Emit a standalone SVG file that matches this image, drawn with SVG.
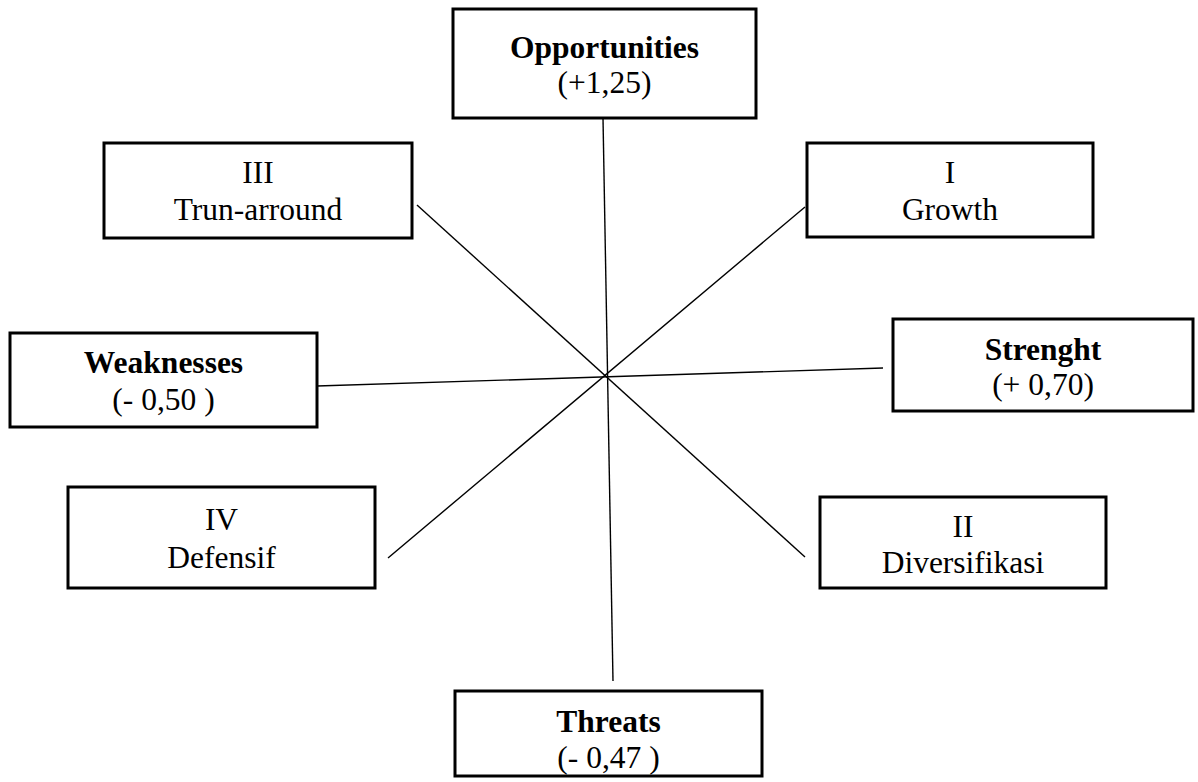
<svg xmlns="http://www.w3.org/2000/svg" width="1198" height="782" viewBox="0 0 1198 782">
<style>
.box{fill:#fff;stroke:#000;stroke-width:3}
.t{font-family:"Liberation Serif","Times New Roman",serif;font-size:31.5px;text-anchor:middle;fill:#000}
.b{font-weight:bold}
.c{stroke:#000;stroke-width:1.4;fill:none}
</style>
<rect width="1198" height="782" fill="#fff"/>
<g id="connectors">
<line class="c" x1="603" y1="118" x2="613" y2="681"/>
<line class="c" x1="317" y1="386" x2="883" y2="368"/>
<line class="c" x1="417" y1="205" x2="805" y2="557"/>
<line class="c" x1="805" y1="207" x2="388" y2="558"/>
</g>
<g id="opportunities">
<rect class="box" x="453" y="9" width="303" height="109"/>
<text class="t b" x="604.5" y="58">Opportunities</text>
<text class="t" x="604.5" y="93">(+1,25)</text>
</g>
<g id="turnaround">
<rect class="box" x="104" y="143" width="308" height="95"/>
<text class="t" x="258" y="183">III</text>
<text class="t" x="258" y="220">Trun-arround</text>
</g>
<g id="growth">
<rect class="box" x="807" y="143" width="286" height="94"/>
<text class="t" x="950" y="183">I</text>
<text class="t" x="950" y="220">Growth</text>
</g>
<g id="weaknesses">
<rect class="box" x="10" y="333" width="307" height="94"/>
<text class="t b" x="163.5" y="373">Weaknesses</text>
<text class="t" x="163.5" y="410">(- 0,50 )</text>
</g>
<g id="strength">
<rect class="box" x="893" y="319" width="300" height="92"/>
<text class="t b" x="1043" y="360">Strenght</text>
<text class="t" x="1043" y="395">(+ 0,70)</text>
</g>
<g id="defensif">
<rect class="box" x="68" y="487" width="307" height="101"/>
<text class="t" x="221.5" y="530">IV</text>
<text class="t" x="221.5" y="568">Defensif</text>
</g>
<g id="diversifikasi">
<rect class="box" x="820" y="497" width="286" height="91"/>
<text class="t" x="963" y="537">II</text>
<text class="t" x="963" y="573">Diversifikasi</text>
</g>
<g id="threats">
<rect class="box" x="455" y="691" width="307" height="85"/>
<text class="t b" x="608.5" y="732">Threats</text>
<text class="t" x="608.5" y="768">(- 0,47 )</text>
</g>
</svg>
